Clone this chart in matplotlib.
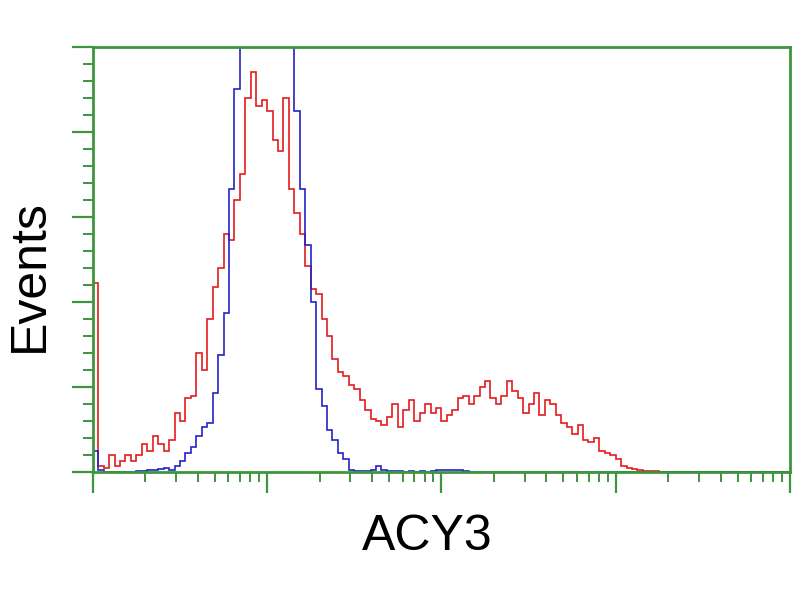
import numpy as np
import matplotlib
matplotlib.use("Agg")
import matplotlib.pyplot as plt
from matplotlib.ticker import MultipleLocator, LogLocator, NullFormatter

# Histogram channels (128 channels over 4 log decades)
n_channels = 128
decades = 4

# Red: ACY3-transfected cells
red_counts = [
    89, 3, 2, 8, 3, 5, 8, 5, 8, 13,
    10, 17, 13, 10, 15, 28, 24, 35, 36, 56,
    48, 72, 87, 96, 112, 109, 128, 140, 176, 188,
    172, 175, 170, 156, 151, 176, 133, 122, 112, 97,
    86, 84, 72, 64, 53, 47, 45, 41, 39, 34,
    29, 25, 24, 22, 26, 32, 21, 29, 34, 24,
    28, 32, 28, 30, 24, 27, 29, 35, 36, 32,
    36, 40, 43, 35, 32, 36, 43, 38, 35, 28,
    32, 37, 27, 34, 32, 27, 23, 21, 18, 22,
    15, 14, 16, 10, 9, 8, 6, 3, 2, 1.5,
    1, 0.5, 0.5, 0.5, 0, 0, 0, 0, 0, 0,
    0, 0, 0, 0, 0, 0, 0, 0, 0, 0,
    0, 0, 0, 0, 0, 0, 0, 0,
]

# Blue: empty-vector control
blue_counts = [
    10, 1, 0, 0, 0, 0, 0, 0, 0.5, 0.5,
    1, 1, 1.5, 2, 1, 3, 5, 9, 12, 17,
    21, 23, 37, 55, 75, 133, 180, 215, 240, 255,
    262, 260, 250, 240, 228, 215, 205, 170, 133, 107,
    80, 39, 31, 20, 15, 9, 6, 1, 0.5, 0.5,
    0.5, 1, 3, 1, 0.5, 0.5, 0.5, 0, 0.5, 0,
    0.5, 0, 0.5, 1, 1, 1, 1, 1, 0.5, 0,
    0, 0, 0, 0, 0, 0, 0, 0, 0, 0,
    0, 0, 0, 0, 0, 0, 0, 0, 0, 0,
    0, 0, 0, 0, 0, 0, 0, 0, 0, 0,
    0, 0, 0, 0, 0, 0, 0, 0, 0, 0,
    0, 0, 0, 0, 0, 0, 0, 0, 0, 0,
    0, 0, 0, 0, 0, 0, 0, 0,
]

x_label = "ACY3"
y_label = "Events"

edges = 10.0 ** (np.arange(n_channels + 1) * decades / n_channels)

green = "#3c963c"

fig = plt.figure(figsize=(8, 6), dpi=100)
ax = fig.add_axes([0.116, 0.2133, 0.8715, 0.7084])

ax.stairs(red_counts, edges, color="#e51b1b", linewidth=1.2, baseline=None)
ax.stairs(blue_counts, edges, color="#2323c8", linewidth=1.2, baseline=None)

ax.set_xscale("log")
ax.set_xlim(1, 10 ** decades)
ax.set_ylim(0, 200)

ax.xaxis.set_major_locator(LogLocator(base=10, numticks=10))
ax.xaxis.set_minor_locator(LogLocator(base=10, subs=np.arange(2, 10), numticks=20))
ax.xaxis.set_major_formatter(NullFormatter())
ax.xaxis.set_minor_formatter(NullFormatter())
ax.yaxis.set_major_locator(MultipleLocator(40))
ax.yaxis.set_minor_locator(MultipleLocator(8))
ax.yaxis.set_major_formatter(NullFormatter())

for s in ax.spines.values():
    s.set_color(green)
    s.set_linewidth(2.0)

ax.tick_params(which="major", direction="out", length=15, width=1.6, color=green)
ax.tick_params(which="minor", direction="out", length=7.5, width=1.4, color=green)

fig.text(427.5 / 800, 1 - 550 / 600, x_label, fontsize=36, family="Liberation Sans",
         ha="center", va="baseline", rotation_mode="anchor")
fig.text(43 / 800, 1 - 276 / 600, y_label, fontsize=36, family="Liberation Sans",
         ha="center", va="baseline", rotation=90, rotation_mode="anchor")

fig.savefig("out.png", dpi=100)
